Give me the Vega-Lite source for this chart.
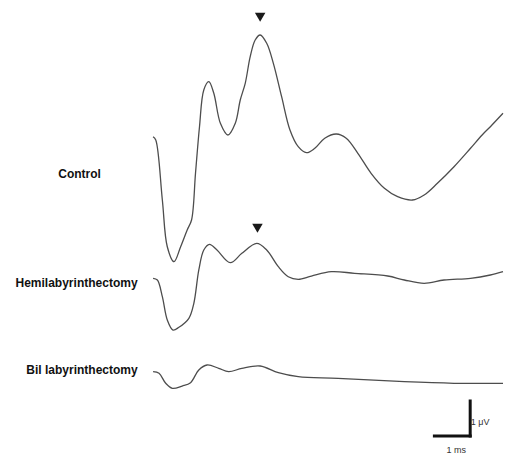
{
  "$schema": "https://vega.github.io/schema/vega-lite/v6.json",
  "width": 506,
  "height": 455,
  "autosize": {"type": "fit", "contains": "padding"},
  "padding": 0,
  "background": "white",
  "config": {"view": {"stroke": null}},
  "datasets": {
    "traces": [
      {"trace": "Control", "t": -0.028, "v": 9.094},
      {"trace": "Control", "t": 0.047, "v": 9.0},
      {"trace": "Control", "t": 0.231, "v": 7.286},
      {"trace": "Control", "t": 0.369, "v": 5.951},
      {"trace": "Control", "t": 0.556, "v": 5.523},
      {"trace": "Control", "t": 0.742, "v": 5.951},
      {"trace": "Control", "t": 0.925, "v": 6.429},
      {"trace": "Control", "t": 1.047, "v": 6.714},
      {"trace": "Control", "t": 1.158, "v": 8.057},
      {"trace": "Control", "t": 1.269, "v": 9.38},
      {"trace": "Control", "t": 1.389, "v": 10.429},
      {"trace": "Control", "t": 1.528, "v": 10.666},
      {"trace": "Control", "t": 1.667, "v": 10.343},
      {"trace": "Control", "t": 1.853, "v": 9.477},
      {"trace": "Control", "t": 2.064, "v": 9.143},
      {"trace": "Control", "t": 2.269, "v": 9.477},
      {"trace": "Control", "t": 2.408, "v": 10.143},
      {"trace": "Control", "t": 2.547, "v": 10.62},
      {"trace": "Control", "t": 2.686, "v": 11.38},
      {"trace": "Control", "t": 2.825, "v": 11.857},
      {"trace": "Control", "t": 2.964, "v": 12.0},
      {"trace": "Control", "t": 3.147, "v": 11.763},
      {"trace": "Control", "t": 3.333, "v": 11.191},
      {"trace": "Control", "t": 3.564, "v": 10.237},
      {"trace": "Control", "t": 3.797, "v": 9.286},
      {"trace": "Control", "t": 4.028, "v": 8.809},
      {"trace": "Control", "t": 4.258, "v": 8.637},
      {"trace": "Control", "t": 4.492, "v": 8.763},
      {"trace": "Control", "t": 4.769, "v": 9.049},
      {"trace": "Control", "t": 5.092, "v": 9.171},
      {"trace": "Control", "t": 5.369, "v": 9.049},
      {"trace": "Control", "t": 5.694, "v": 8.62},
      {"trace": "Control", "t": 6.064, "v": 8.049},
      {"trace": "Control", "t": 6.436, "v": 7.62},
      {"trace": "Control", "t": 6.806, "v": 7.38},
      {"trace": "Control", "t": 7.222, "v": 7.286},
      {"trace": "Control", "t": 7.547, "v": 7.429},
      {"trace": "Control", "t": 7.917, "v": 7.763},
      {"trace": "Control", "t": 8.381, "v": 8.237},
      {"trace": "Control", "t": 8.842, "v": 8.763},
      {"trace": "Control", "t": 9.167, "v": 9.143},
      {"trace": "Control", "t": 9.397, "v": 9.38},
      {"trace": "Control", "t": 9.75, "v": 9.763},
      {"trace": "Hemi", "t": -0.028, "v": 5.049},
      {"trace": "Hemi", "t": 0.092, "v": 5.0},
      {"trace": "Hemi", "t": 0.231, "v": 4.523},
      {"trace": "Hemi", "t": 0.369, "v": 3.857},
      {"trace": "Hemi", "t": 0.528, "v": 3.571},
      {"trace": "Hemi", "t": 0.694, "v": 3.649},
      {"trace": "Hemi", "t": 0.972, "v": 3.906},
      {"trace": "Hemi", "t": 1.111, "v": 4.334},
      {"trace": "Hemi", "t": 1.25, "v": 5.286},
      {"trace": "Hemi", "t": 1.389, "v": 5.857},
      {"trace": "Hemi", "t": 1.547, "v": 6.02},
      {"trace": "Hemi", "t": 1.758, "v": 5.857},
      {"trace": "Hemi", "t": 2.131, "v": 5.494},
      {"trace": "Hemi", "t": 2.453, "v": 5.763},
      {"trace": "Hemi", "t": 2.869, "v": 6.049},
      {"trace": "Hemi", "t": 3.147, "v": 5.857},
      {"trace": "Hemi", "t": 3.472, "v": 5.38},
      {"trace": "Hemi", "t": 3.75, "v": 5.094},
      {"trace": "Hemi", "t": 4.028, "v": 5.02},
      {"trace": "Hemi", "t": 4.397, "v": 5.114},
      {"trace": "Hemi", "t": 4.953, "v": 5.237},
      {"trace": "Hemi", "t": 5.603, "v": 5.191},
      {"trace": "Hemi", "t": 6.528, "v": 5.114},
      {"trace": "Hemi", "t": 6.992, "v": 5.0},
      {"trace": "Hemi", "t": 7.547, "v": 4.906},
      {"trace": "Hemi", "t": 8.103, "v": 5.0},
      {"trace": "Hemi", "t": 8.842, "v": 5.049},
      {"trace": "Hemi", "t": 9.397, "v": 5.143},
      {"trace": "Hemi", "t": 9.75, "v": 5.237},
      {"trace": "Bil", "t": -0.028, "v": 2.38},
      {"trace": "Bil", "t": 0.139, "v": 2.334},
      {"trace": "Bil", "t": 0.325, "v": 2.049},
      {"trace": "Bil", "t": 0.508, "v": 1.906},
      {"trace": "Bil", "t": 0.786, "v": 1.971},
      {"trace": "Bil", "t": 1.019, "v": 2.066},
      {"trace": "Bil", "t": 1.25, "v": 2.429},
      {"trace": "Bil", "t": 1.481, "v": 2.571},
      {"trace": "Bil", "t": 1.806, "v": 2.477},
      {"trace": "Bil", "t": 2.083, "v": 2.38},
      {"trace": "Bil", "t": 2.453, "v": 2.477},
      {"trace": "Bil", "t": 2.964, "v": 2.543},
      {"trace": "Bil", "t": 3.472, "v": 2.351},
      {"trace": "Bil", "t": 4.028, "v": 2.237},
      {"trace": "Bil", "t": 5.139, "v": 2.191},
      {"trace": "Bil", "t": 6.992, "v": 2.094},
      {"trace": "Bil", "t": 8.381, "v": 2.049},
      {"trace": "Bil", "t": 9.75, "v": 2.049}
    ],
    "markers": [
      {"trace": "Control", "t": 2.964, "v": 12.506},
      {"trace": "Hemi", "t": 2.889, "v": 6.477}
    ],
    "labels": [
      {"label": "Control", "t": -2.083, "v": 8.029},
      {"label": "Hemilabyrinthectomy", "t": -2.167, "v": 4.906},
      {"label": "Bil labyrinthectomy", "t": -2.014, "v": 2.429}
    ],
    "scalebar": [
      {"bar": "time", "t": 7.833, "t2": 8.833, "v": 0.543, "v2": 0.543},
      {"bar": "amplitude", "t": 8.833, "t2": 8.833, "v": 0.543, "v2": 1.543}
    ],
    "scaletext": [
      {"label": "1 μV", "t": 9.11, "v": 0.951, "align": "left"},
      {"label": "1 ms", "t": 8.444, "v": 0.143, "align": "center"}
    ]
  },
  "layer": [
    {
      "data": {"name": "traces"},
      "mark": {"type": "line", "interpolate": "catmull-rom", "color": "#4d4d4d", "strokeWidth": 1.3},
      "encoding": {
        "x": {"field": "t", "type": "quantitative", "scale": {"domain": [-4.3056, 9.75], "nice": false, "zero": false}, "axis": null},
        "y": {"field": "v", "type": "quantitative", "scale": {"domain": [0, 13], "nice": false, "zero": false}, "axis": null},
        "detail": {"field": "trace", "type": "nominal"}
      }
    },
    {
      "data": {"name": "markers"},
      "mark": {"type": "point", "shape": "triangle-down", "filled": true, "color": "#1a1a1a", "size": 110, "opacity": 1},
      "encoding": {
        "x": {"field": "t", "type": "quantitative"},
        "y": {"field": "v", "type": "quantitative"}
      }
    },
    {
      "data": {"name": "labels"},
      "mark": {"type": "text", "font": "Liberation Sans", "fontSize": 12, "fontWeight": "bold", "color": "#111111", "align": "center", "baseline": "middle"},
      "encoding": {
        "x": {"field": "t", "type": "quantitative"},
        "y": {"field": "v", "type": "quantitative"},
        "text": {"field": "label", "type": "nominal"}
      }
    },
    {
      "data": {"name": "scalebar"},
      "mark": {"type": "rule", "color": "#111111", "strokeWidth": 3, "strokeCap": "square"},
      "encoding": {
        "x": {"field": "t", "type": "quantitative"},
        "x2": {"field": "t2"},
        "y": {"field": "v", "type": "quantitative"},
        "y2": {"field": "v2"}
      }
    },
    {
      "data": {"name": "scaletext"},
      "mark": {"type": "text", "font": "Liberation Sans", "fontSize": 9, "color": "#333333", "baseline": "middle"},
      "encoding": {
        "x": {"field": "t", "type": "quantitative"},
        "y": {"field": "v", "type": "quantitative"},
        "text": {"field": "label", "type": "nominal"},
        "align": {"field": "align", "type": "nominal", "scale": null, "legend": null}
      }
    }
  ]
}
